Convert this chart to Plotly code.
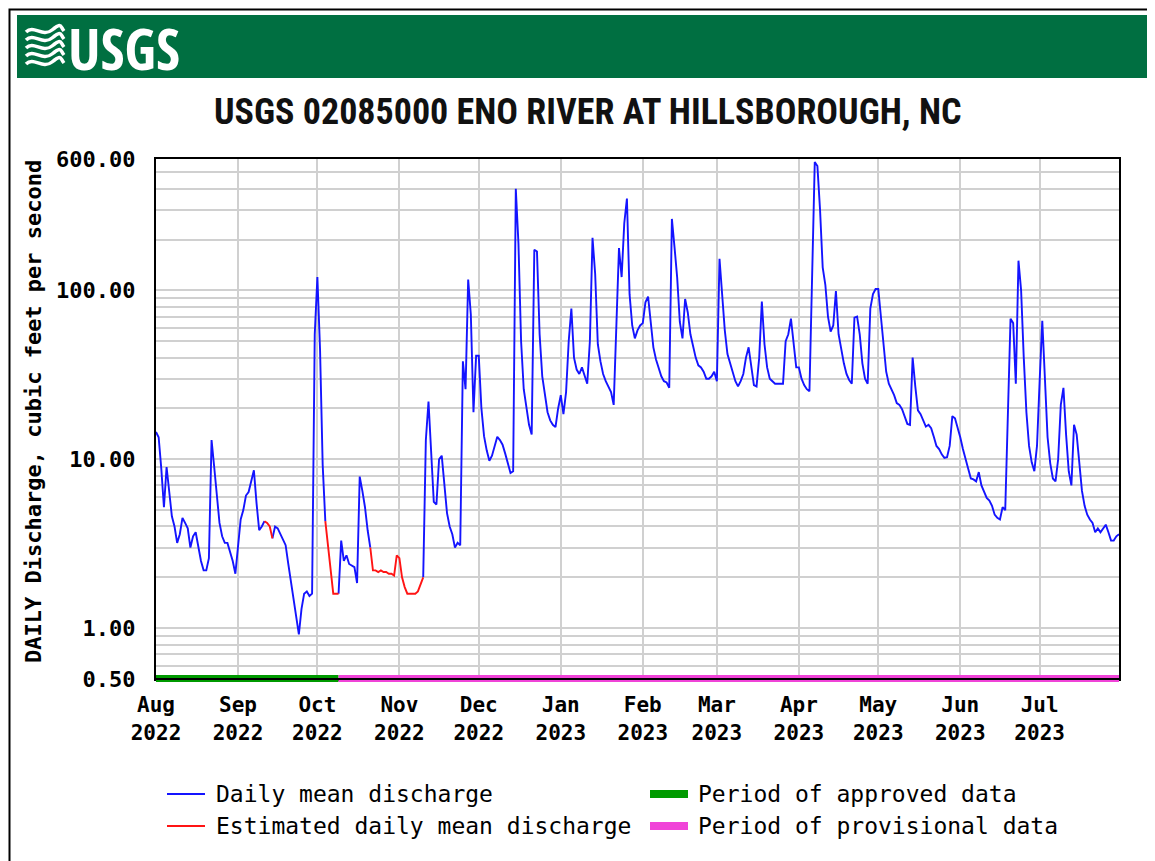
import pandas as pd
import plotly.graph_objects as go

# Daily mean discharge (cfs), Eno River at Hillsborough
aug_2022 = [14.5, 13.5, 8.8, 5.2, 9.0, 6.5, 4.6, 4.0, 3.2, 3.6, 4.5, 4.2, 3.9, 3.0, 3.5, 3.7,
            3.0, 2.5, 2.2, 2.2, 2.6, 13.0, 9.0, 6.2, 4.2, 3.5, 3.2, 3.2, 2.85, 2.5, 2.1]
sep_2022 = [3.0, 4.4, 5.0, 6.1, 6.4, 7.5, 8.6, 5.5, 3.8, 4.0, 4.3, 4.2, 4.0, 3.4, 4.0, 3.9,
            3.6, 3.4, 3.1, 2.4, 1.9, 1.5, 1.15, 0.92, 1.3, 1.6, 1.65, 1.55, 1.6, 55]
oct_2022 = [120, 45, 9.3, 4.3, 3.0, 2.1, 1.6, 1.6, 1.6, 3.3, 2.5, 2.7, 2.4, 2.35, 2.3, 1.85,
            7.9, 6.5, 5.2, 3.8, 3.0, 2.2, 2.2, 2.15, 2.2, 2.15, 2.15, 2.1, 2.1, 2.05, 2.7]
nov_2022 = [2.6, 2.0, 1.75, 1.6, 1.6, 1.6, 1.6, 1.65, 1.8, 2.0, 13, 22, 12, 5.6, 5.4, 10,
            10.5, 7.0, 4.8, 4.0, 3.6, 3.0, 3.2, 3.1, 38, 26, 116, 72, 19, 41]
dec_2022 = [41, 20, 13.7, 11.3, 9.8, 10.5, 12, 13.6, 13, 12.2, 10.8, 9.4, 8.3, 8.5, 400, 190,
            50, 26, 21, 16, 14, 174, 170, 55, 31, 24, 19, 17, 16, 15.5, 20]
jan_2023 = [24, 18.5, 25, 50, 78, 40, 34, 32, 35, 31, 28, 50, 205, 125, 48, 38,
            32, 29, 27, 25, 21, 60, 178, 120, 250, 350, 95, 62, 52, 58, 62]
feb_2023 = [64, 85, 92, 65, 46, 39, 35, 31, 29, 28.5, 26.5, 265, 180, 119, 65, 52,
            89, 74, 55, 46, 40, 36, 35, 33, 30, 30, 31, 33]
mar_2023 = [29, 154, 90, 58, 42, 37, 32, 29, 27, 29, 32, 40, 46, 36, 27.5, 27,
            40, 86, 48, 35, 30, 29, 28, 28, 28, 28, 50, 55, 68, 50, 35]
apr_2023 = [35, 30, 27.5, 26, 25.3, 150, 575, 545, 300, 137, 108, 70, 57, 62, 99, 55,
            44, 37, 32, 29.5, 28, 69, 70, 55, 37, 30, 28, 78, 95, 102]
may_2023 = [102, 70, 47, 33, 28, 26, 24, 21.5, 21, 19.8, 17.6, 16.2, 16, 40, 27, 19.5,
            18.5, 17, 15.6, 16, 15.3, 13.6, 12, 11.5, 10.7, 10.2, 10.3, 12, 18, 17.5, 15.5]
jun_2023 = [13.5, 11.5, 10.2, 8.8, 7.7, 7.6, 7.4, 8.4, 7.0, 6.4, 5.9, 5.7, 5.3, 4.7, 4.5, 4.4,
            5.2, 5.0, 22, 68, 64, 28, 150, 100, 40, 19, 12, 9.6, 8.5, 12]
jul_2023 = [29, 66, 30, 13.5, 9.5, 7.7, 7.4, 10, 21, 26.5, 14, 8.5, 7.0, 16, 14, 9.5,
            6.5, 5.3, 4.7, 4.4, 4.2, 3.7, 3.9, 3.7, 3.9, 4.1, 3.7, 3.3, 3.3, 3.5, 3.6]

# days flagged as estimated (drawn red)
estimated_periods = [("2022-09-11", "2022-09-14"),
                     ("2022-10-04", "2022-10-09"),
                     ("2022-10-21", "2022-11-10")]
approved_until = "2022-10-09"

y_grid = [0.5, 0.6, 0.7, 0.8, 0.9, 1, 2, 3, 4, 5, 6, 7, 8, 9,
          10, 20, 30, 40, 50, 60, 70, 80, 90, 100, 200, 300, 400, 500, 600]
y_labels = {0.5: "0.50", 1: "1.00", 10: "10.00", 100: "100.00", 600: "600.00"}

flow = (aug_2022 + sep_2022 + oct_2022 + nov_2022 + dec_2022 + jan_2023 +
        feb_2023 + mar_2023 + apr_2023 + may_2023 + jun_2023 + jul_2023)
dates = pd.date_range("2022-08-01", periods=len(flow), freq="D")

est = [any(pd.Timestamp(a) <= d <= pd.Timestamp(b) for a, b in estimated_periods) for d in dates]
n = len(flow)
blue_y, red_y = [], []
for i in range(n):
    edge = (i > 0 and not est[i - 1]) or (i < n - 1 and not est[i + 1])
    blue_y.append(flow[i] if (not est[i] or edge) else None)
    red_y.append(flow[i] if est[i] else None)

month_starts = pd.date_range("2022-08-01", "2023-07-01", freq="MS")
month_text = [f"<b>{d:%b}<br>{d:%Y}</b>" for d in month_starts]

# pixel layout (page body adds an 8px margin, so the figure is shrunk by that much)
W, H, OFF = 1155, 861, 8
L, R, T, B = 156, 1119, 159, 679


def px(x):
    return (x - L) / (R - L)


def py(y):
    return (B - y) / (B - T)


MONO = "DejaVu Sans Mono"
COND = "Roboto Condensed, DejaVu Sans Condensed, sans-serif"
BLUE = "#1414ff"
RED = "#ff1414"
GREEN = "#009a00"
MAGENTA = "#f044d8"

fig = go.Figure()

fig.add_trace(go.Scatter(x=dates, y=blue_y, mode="lines", connectgaps=False,
                         line=dict(color=BLUE, width=1.9), name="Daily mean discharge"))
fig.add_trace(go.Scatter(x=dates, y=red_y, mode="lines", connectgaps=False,
                         line=dict(color=RED, width=1.9), name="Estimated daily mean discharge"))

shapes = []
# outer frame and green banner
shapes.append(dict(type="rect", xref="paper", yref="paper", x0=px(OFF + 1.5), x1=px(1170),
                   y0=py(OFF + 1.5), y1=py(880), line=dict(color="black", width=2), layer="below"))
shapes.append(dict(type="rect", xref="paper", yref="paper", x0=px(17), x1=px(1170),
                   y0=py(15), y1=py(78), fillcolor="#006f41", line=dict(width=0)))
# wave mark of the logo
for k in range(5):
    y0 = 28 + k * 8
    path = (f"M {px(26)},{py(y0 + 4)} C {px(34)},{py(y0 - 4)} {px(42)},{py(y0 + 10)} "
            f"{px(52)},{py(y0 + 2)} S {px(60)},{py(y0 - 2)} {px(64)},{py(y0 + 3)}")
    shapes.append(dict(type="path", xref="paper", yref="paper", path=path,
                       line=dict(color="white", width=3.5)))

# period of approved / provisional data along the bottom axis
shapes.append(dict(type="rect", xref="x", yref="paper", x0=dates[0], x1=approved_until,
                   y0=py(682), y1=py(675), fillcolor=GREEN, line=dict(width=0), layer="above"))
shapes.append(dict(type="rect", xref="x", yref="paper", x0=approved_until, x1=dates[-1],
                   y0=py(682), y1=py(675), fillcolor=MAGENTA, line=dict(width=0), layer="above"))
shapes.append(dict(type="line", xref="paper", yref="paper", x0=0, x1=1, y0=0, y1=0,
                   line=dict(color="black", width=2), layer="above"))

# legend samples
shapes.append(dict(type="line", xref="paper", yref="paper", x0=px(167), x1=px(205),
                   y0=py(794), y1=py(794), line=dict(color=BLUE, width=2)))
shapes.append(dict(type="line", xref="paper", yref="paper", x0=px(167), x1=px(205),
                   y0=py(826), y1=py(826), line=dict(color=RED, width=2)))
shapes.append(dict(type="rect", xref="paper", yref="paper", x0=px(650), x1=px(688),
                   y0=py(798), y1=py(790), fillcolor=GREEN, line=dict(width=0)))
shapes.append(dict(type="rect", xref="paper", yref="paper", x0=px(650), x1=px(688),
                   y0=py(830), y1=py(822), fillcolor=MAGENTA, line=dict(width=0)))

annotations = [
    dict(text="<b>USGS</b>", x=px(66), y=py(47), xanchor="left", yanchor="middle",
         font=dict(family="Open Sans Condensed, Roboto Condensed, sans-serif",
                   size=58, color="white")),
    dict(text="<b>USGS 02085000 ENO RIVER AT HILLSBOROUGH, NC</b>", x=px(587), y=py(112),
         xanchor="center", yanchor="middle", font=dict(family=COND, size=36, color="#111111")),
    dict(text="<b>DAILY Discharge, cubic feet per second</b>", x=px(33), y=py(412),
         textangle=-90, xanchor="center", yanchor="middle",
         font=dict(family=MONO, size=22, color="black")),
    dict(text="Daily mean discharge", x=px(214), y=py(794), xanchor="left", yanchor="middle",
         font=dict(family=MONO, size=23, color="black")),
    dict(text="Estimated daily mean discharge", x=px(214), y=py(826), xanchor="left",
         yanchor="middle", font=dict(family=MONO, size=23, color="black")),
    dict(text="Period of approved data", x=px(696), y=py(794), xanchor="left",
         yanchor="middle", font=dict(family=MONO, size=23, color="black")),
    dict(text="Period of provisional data", x=px(696), y=py(826), xanchor="left",
         yanchor="middle", font=dict(family=MONO, size=23, color="black")),
]
for a in annotations:
    a.update(xref="paper", yref="paper", showarrow=False)

fig.update_layout(
    width=W - OFF, height=H - OFF,
    margin=dict(l=L - OFF, r=W - R, t=T - OFF, b=H - B, pad=0),
    paper_bgcolor="white", plot_bgcolor="white",
    showlegend=False,
    shapes=shapes,
    annotations=annotations,
    xaxis=dict(
        type="date", range=[dates[0], dates[-1]],
        tickvals=month_starts, ticktext=month_text, ticks="",
        tickfont=dict(family=MONO, size=21, color="black"),
        showgrid=True, gridcolor="#d0d0d0", gridwidth=2,
        showline=True, linecolor="black", linewidth=2, mirror=True,
        ticklabelstandoff=6, zeroline=False,
    ),
    yaxis=dict(
        type="log", range=[-0.30103, 2.77815],
        tickvals=y_grid, ticktext=[f"<b>{y_labels[v]}</b>" if v in y_labels else "" for v in y_grid],
        ticks="",
        tickfont=dict(family=MONO, size=22, color="black"),
        showgrid=True, gridcolor="#d0d0d0", gridwidth=2,
        showline=True, linecolor="black", linewidth=2, mirror=True,
        ticklabelstandoff=14, zeroline=False,
    ),
)

fig.write_html("out.html")
